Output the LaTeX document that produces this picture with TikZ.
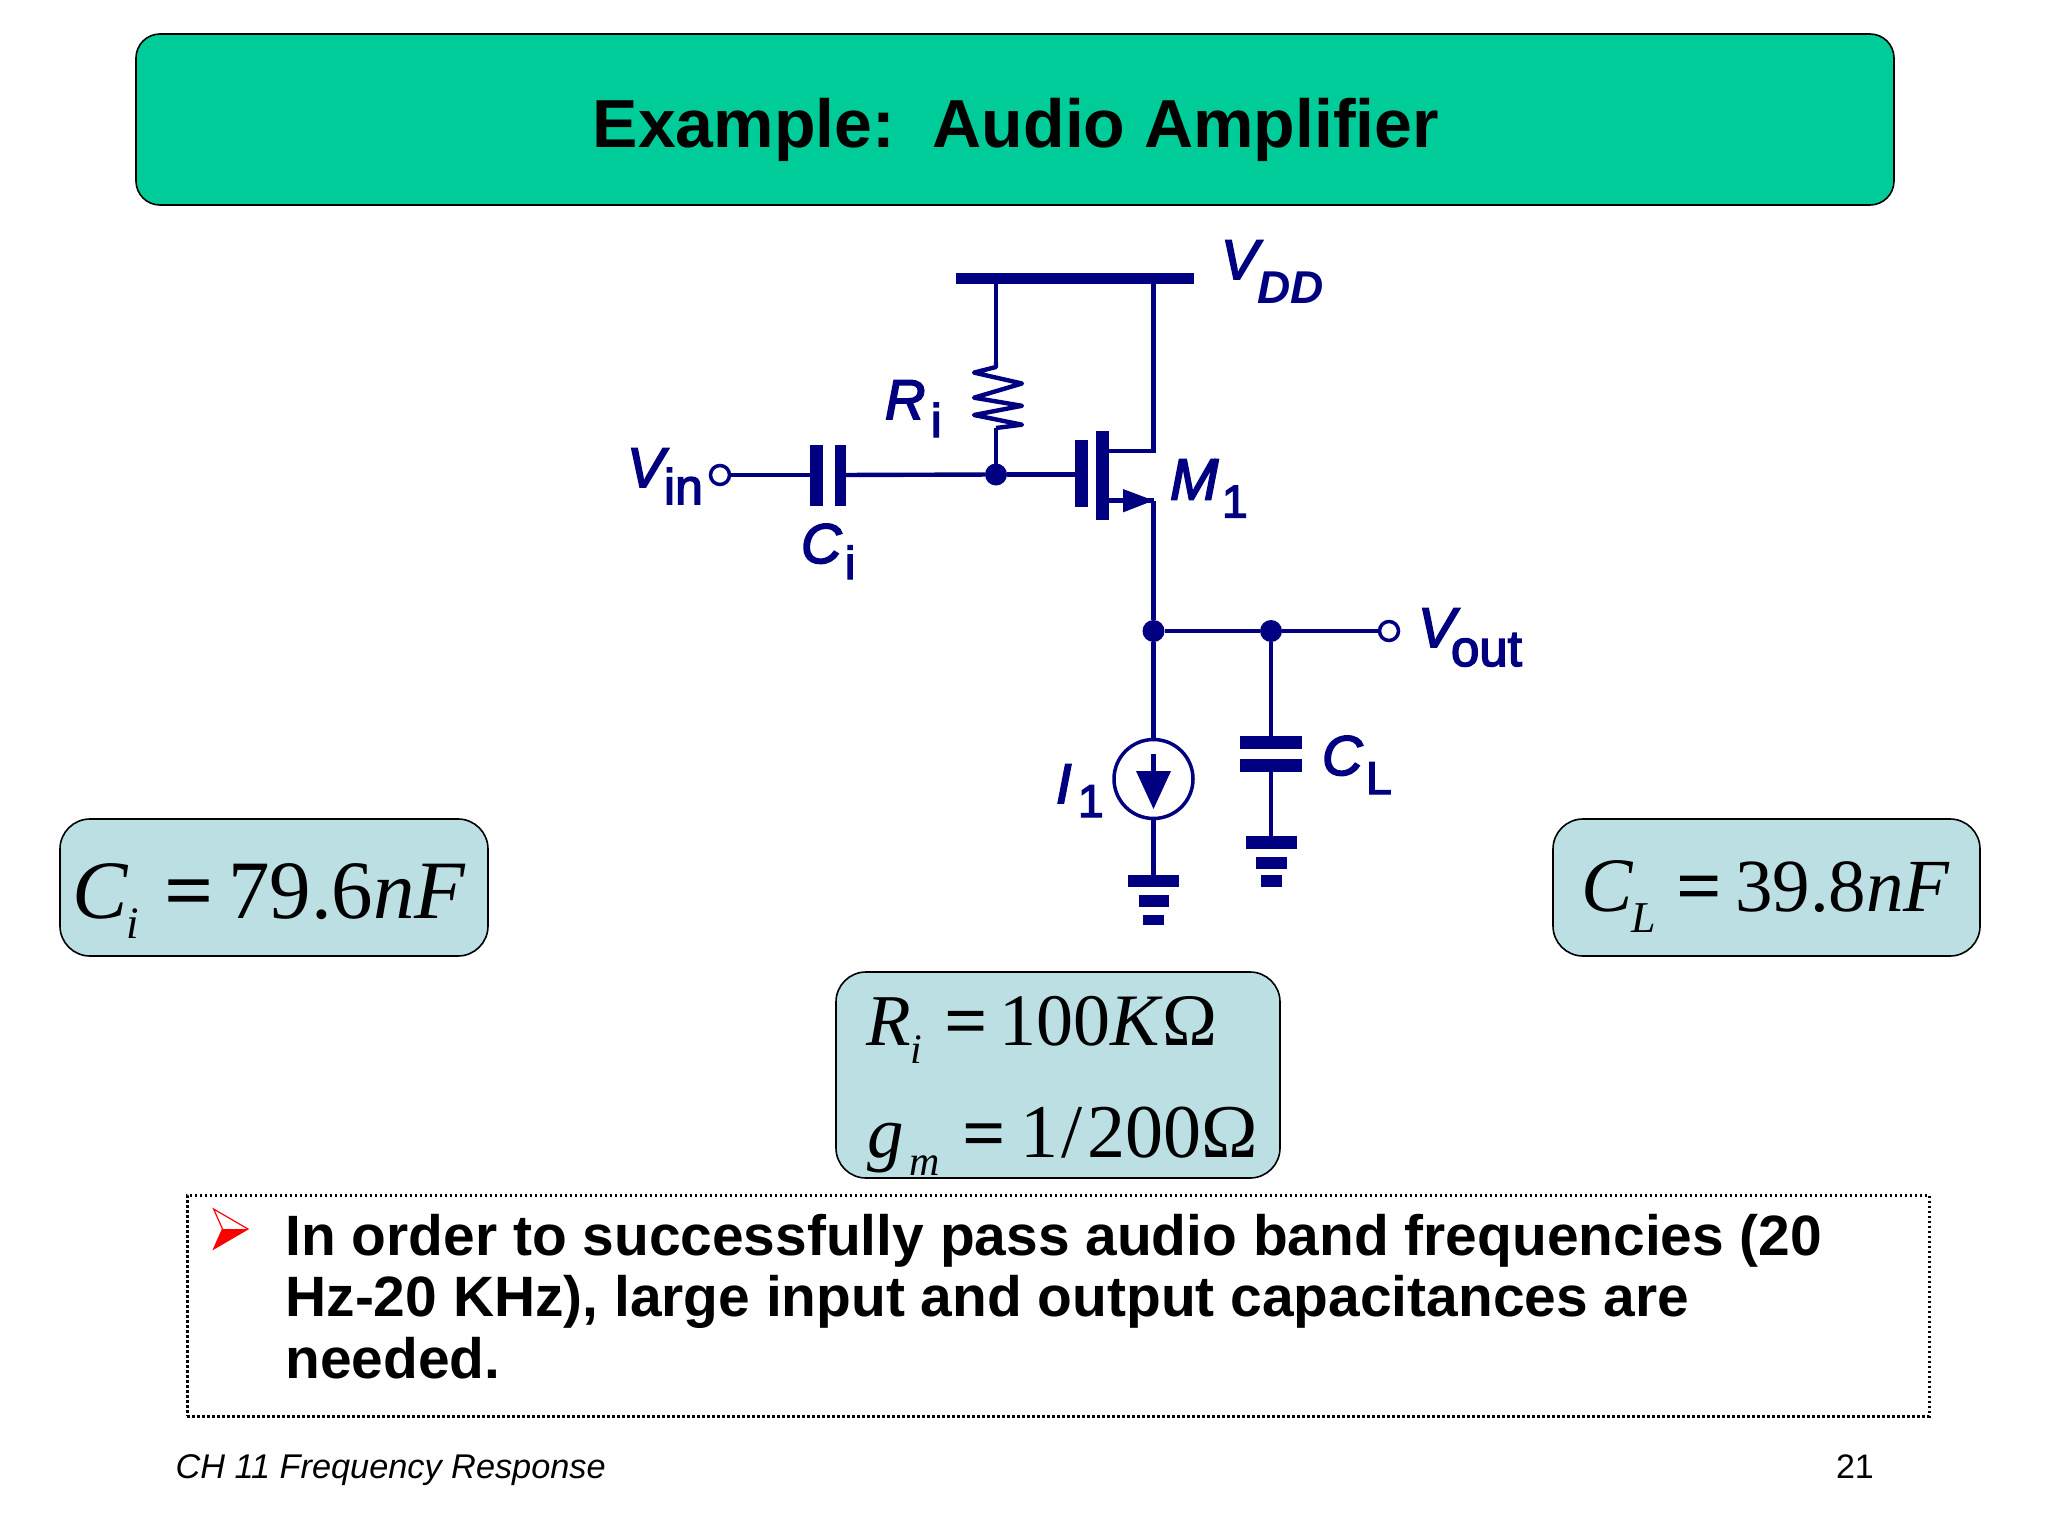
\documentclass[tikz,border=0pt]{standalone}
\usepackage{fontspec}
\setmainfont{Liberation Sans}
\newfontfamily\tms{Liberation Serif}
\newfontfamily\tmsb[FakeBold=1.8]{Liberation Serif}
\newfontfamily\lab[FakeBold=3]{Liberation Sans}
\definecolor{navyc}{HTML}{000080}
\definecolor{titleg}{HTML}{00CC99}
\definecolor{boxb}{HTML}{BBDFE3}
\newcommand{\fs}[1]{\fontsize{#1}{#1}\selectfont}
\tikzset{
  wire/.style={draw=navyc,line width=4.4pt},
  bar/.style={fill=navyc,draw=none,inner sep=0pt,outer sep=0pt,rectangle},
  dot/.style={fill=navyc,draw=none,circle,inner sep=0pt,outer sep=0pt,minimum size=22pt},
  term/.style={draw=navyc,fill=white,line width=3.5pt,circle,inner sep=0pt,outer sep=0pt,minimum size=19pt},
  panel/.style={draw=black,line width=1.6pt,fill=boxb,rounded corners=30pt},
  t/.style={anchor=base west,inner sep=0pt,outer sep=0pt},
  navy/.style={t,text=navyc},
  mth/.style={t,text=black},
}
\begin{document}
\begin{tikzpicture}[x=1pt,y=-1pt]
\useasboundingbox (0,0) rectangle (2048,1536);
\fill[white] (0,0) rectangle (2048,1536);
% title
\node[draw=black,line width=1.6pt,fill=titleg,rounded corners=24pt,minimum width=1758pt,minimum height=171pt,inner sep=0pt] (title) at (1015,119.5) {};
\node[anchor=base,inner sep=0pt,font=\bfseries\fs{68}] (titletxt) at (1016,147.5) {Example:\ \ Audio Amplifier};

% circuit
\node[bar,minimum width=238pt,minimum height=11pt] (vdd) at (1075,278.5) {};
\coordinate (rtop) at (996,279);
\coordinate (rzt) at (996,362);
\coordinate (rzb) at (996,428);
\coordinate (dtop) at (1153.5,279);
\node[dot] (jg) at (996,474.5) {};
\node[term] (vin) at (720,475) {};
\node[bar,minimum width=13pt,minimum height=61pt] (cil) at (816.5,475) {};
\node[bar,minimum width=11pt,minimum height=61pt] (cir) at (840,475) {};
\node[bar,minimum width=13pt,minimum height=67pt] (gate) at (1081.5,473) {};
\node[bar,minimum width=13pt,minimum height=89pt] (chan) at (1102,475) {};
\coordinate (dk) at (1153.5,451);
\coordinate (sk) at (1153.5,500.5);
\coordinate (gk) at (gate.west |- jg);
\node[dot] (jo) at (1153.5,631) {};
\node[dot] (jc) at (1271,631) {};
\node[term] (vout) at (1389,631) {};
\node[draw=navyc,fill=white,line width=3.5pt,circle,inner sep=0pt,minimum size=79pt] (is) at (1153.5,779) {};
\node[bar,minimum width=62pt,minimum height=13pt] (clt) at (1271,742) {};
\node[bar,minimum width=62pt,minimum height=13pt] (clb) at (1271,765.5) {};
\node[bar,minimum width=51pt,minimum height=13pt] (g1a) at (1271,842) {};
\node[bar,minimum width=31pt,minimum height=12pt] (g1b) at (1271,862.5) {};
\node[bar,minimum width=21pt,minimum height=12pt] (g1c) at (1271,880.5) {};
\node[bar,minimum width=51pt,minimum height=12pt] (g2a) at (1153.5,880.5) {};
\node[bar,minimum width=30pt,minimum height=12pt] (g2b) at (1153.5,901) {};
\node[bar,minimum width=21pt,minimum height=10pt] (g2c) at (1153.5,920) {};

\draw[wire] (rtop) -- (rzt);
\draw[wire,line join=round] (rzt) -- (996,367) -- (974,372.6) -- (1022,383.5) -- (974,397.7) -- (1022,405.8) -- (974,415) -- (1022,424.7) -- (rzb);
\draw[wire] (rzb) -- (jg);
\draw[wire] (dtop) -- (dk) -- (chan.east |- dk);
\draw[wire] (sk) -- (jo);
\draw[wire] (chan.east |- sk) -- (sk);
\fill[navyc] (1123,489) -- (1153.5,500.5) -- (1123,512.4) -- cycle;
\draw[wire] (vin) -- (cil);
\draw[wire] (cir) -- (jg);
\draw[wire] (jg) -- (gk);
\draw[wire] (jo) -- (jc);
\draw[wire] (jc) -- (vout);
\draw[wire] (jo) -- (is);
\draw[wire] (is) -- (g2a);
\draw[wire] (jc) -- (clt);
\draw[wire] (clb) -- (g1a);
% current arrow
\coordinate (iat) at (1153.5,754);
\coordinate (iab) at (1153.5,774);
\draw[wire] (iat) -- (iab);
\fill[navyc] (1136,771) -- (1171,771) -- (1153.5,809) -- cycle;

% circuit labels
\node[navy,font=\lab\itshape\fs{56}] (lvdd) at (1221,279) {V};
\node[navy,font=\itshape\bfseries\fs{46}] (ldd) at (1257,303) {DD};
\node[navy,font=\lab\itshape\fs{56}] (lr) at (885,419) {R};
\node[navy,font=\lab\fs{47}] (lri) at (931,437) {i};
\node[navy,font=\lab\itshape\fs{56}] (lv) at (627,487) {V};
\node[navy,font=\lab\fs{50}] (lvi) at (664,504) {in};
\node[navy,font=\lab\itshape\fs{56}] (lc) at (801,563) {C};
\node[navy,font=\lab\fs{46}] (lci) at (845,579) {i};
\node[navy,font=\lab\itshape\fs{58}] (lm) at (1170,499.5) {M};
\node[navy,font=\lab\fs{46}] (lm1) at (1222,517.5) {1};
\node[navy,font=\lab\itshape\fs{56}] (lvo) at (1418,647) {V};
\node[navy,font=\lab\fs{51}] (lvoo) at (1451,666) {out};
\node[navy,font=\lab\itshape\fs{56}] (li) at (1056,803) {I};
\node[navy,font=\lab\fs{46}] (li1) at (1078,817) {1};
\node[navy,font=\lab\itshape\fs{56}] (lcl) at (1322,775) {C};
\node[navy,font=\lab\fs{46}] (lcll) at (1366,794) {L};

% value boxes
\node[panel,minimum width=428pt,minimum height=137pt,inner sep=0pt] (bi) at (274,887.5) {};
\node[mth,font=\tms\itshape\fs{83}] (m1) at (72,918) {C};
\node[mth,font=\tms\itshape\fs{45}] (m2) at (126,938) {i};
\node[mth,font=\tmsb\fs{83}] (m3) at (165,918) {=};
\node[mth,font=\tms\fs{83}] (m4) at (228,918) {79.6\textit{nF}};

\node[panel,minimum width=427pt,minimum height=137pt,inner sep=0pt] (bl) at (1766.5,887.5) {};
\node[mth,font=\tms\itshape\fs{77}] (n1) at (1581,911.5) {C};
\node[mth,font=\tms\itshape\fs{44}] (n2) at (1631,932) {L};
\node[mth,font=\tmsb\fs{77}] (n3) at (1677,911.5) {=};
\node[mth,font=\tms\fs{75}] (n4) at (1735,911.5) {39.8\textit{nF}};

\node[panel,minimum width=444pt,minimum height=206pt,inner sep=0pt] (br) at (1058,1075) {};
\node[mth,font=\tms\itshape\fs{73}] (r1) at (866,1045) {R};
\node[mth,font=\tms\itshape\fs{42}] (r2) at (910,1063) {i};
\node[mth,font=\tmsb\fs{73}] (r3) at (945,1045) {=};
\node[mth,font=\tms\fs{74}] (r4) at (999,1045) {100\textit{K}Ω};
\node[mth,font=\tms\itshape\fs{73}] (g1) at (867,1157.5) {g};
\node[mth,font=\tms\itshape\fs{42}] (g2) at (909,1175) {m};
\node[mth,font=\tmsb\fs{73}] (g3) at (963,1157.5) {=};
\node[mth,font=\tms\fs{76}] (g4) at (1020,1157.5) {1\kern4pt/\kern4pt200Ω};

% note box
\node[draw=black,line width=3pt,dash pattern=on 2.5pt off 2.5pt,minimum width=1742pt,minimum height=221pt,inner sep=0pt] (note) at (1058,1305.5) {};
\fill[red] (222.5,1229) -- (248,1229) -- (213.6,1249) -- cycle;
\draw[red,line width=1.2pt,line join=miter] (213.6,1209) -- (248,1229) -- (213.6,1249) -- (222.5,1229) -- cycle;
\node[t,font=\bfseries\fs{56.9}] (l1) at (285.5,1255) {In order to successfully pass audio band frequencies (20};
\node[t,font=\bfseries\fs{56.9}] (l2) at (285.5,1316.5) {Hz-20 KHz), large input and output capacitances are};
\node[t,font=\bfseries\fs{56.9}] (l3) at (285.5,1378) {needed.};

% footer
\node[t,font=\itshape\fs{34.3}] (foot) at (175.5,1478) {CH 11 Frequency Response};
\node[t,font=\fs{34}] (pg) at (1836,1478) {21};
\end{tikzpicture}
\end{document}
